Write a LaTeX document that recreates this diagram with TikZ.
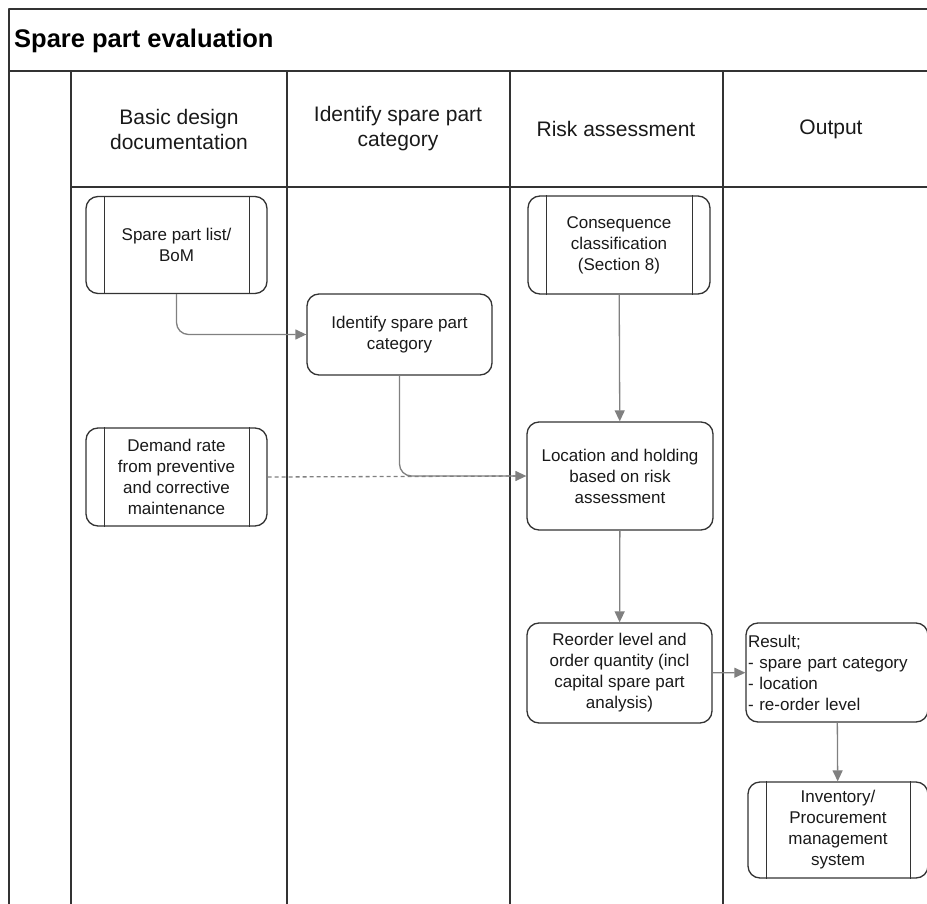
\documentclass[tikz,border=0pt]{standalone}
\usepackage{fontspec}
\setmainfont{Liberation Sans}
\usetikzlibrary{arrows.meta}
\tikzset{
  lane/.style={draw=black!80, line width=1.7pt},
  box/.style={draw=black!80, line width=1.3pt, rounded corners=12pt, align=center, inner sep=2pt,
    text=black!90, font=\fontsize{17}{21}\selectfont},
  flow/.style={draw=black!50, line width=1.3pt, rounded corners=12pt, -{Triangle[length=11pt,width=10pt]}},
}
\begin{document}
\begin{tikzpicture}[x=1pt,y=-1pt,line join=round]
\useasboundingbox (0,0) rectangle (927,904);
\clip (0,0) rectangle (927,904);
% pool, header band and lanes
\draw[lane] (960,9) -- (9,9) -- (9,910);
\draw[lane] (9,71) -- (960,71);
\draw[lane] (71,187) -- (960,187);
\foreach \x in {71,287,510,723}{\draw[lane] (\x,71) -- (\x,910);}
\node[anchor=base west, inner sep=0pt, font=\fontsize{25.5}{30}\selectfont\bfseries] (title) at (14,48) {Spare part evaluation};
\foreach \n/\x/\t in {h1/179/{Basic design\\documentation}, h2/398/{Identify spare part\\category}, h3/616/{Risk assessment}, h4/831/{Output}}{
  \node[align=center, text=black!90, font=\fontsize{21}{25}\selectfont] (\n) at (\x,129) {\t};}
% tasks
\node[box, minimum width=181pt, minimum height=97pt] (bom) at (176.5,245) {Spare part list/\\BoM};
\node[box, minimum width=185pt, minimum height=81pt] (ident) at (399.5,334.5) {Identify spare part\\category};
\node[box, minimum width=181pt, minimum height=98pt] (dem) at (176.5,477) {Demand rate\\from preventive\\and corrective\\maintenance};
\node[box, minimum width=182pt, minimum height=98pt] (cons) at (619,245) {Consequence\\classification\\(Section 8)};
\node[box, minimum width=186pt, minimum height=108pt] (loc) at (620,476) {Location and holding\\based on risk\\assessment};
\node[box, minimum width=185pt, minimum height=100pt] (reord) at (619.5,673) {Reorder level and\\order quantity (incl\\capital spare part\\analysis)};
\node[box, align=left, text width=178pt, minimum width=182pt, minimum height=99pt] (res) at (837,672.5) {Result;\\- spare part category\\- location\\- re-order level};
\node[box, minimum width=180pt, minimum height=96pt] (inv) at (838,830) {Inventory/\\Procurement\\management\\system};
% subprocess bars
\foreach \b in {bom,dem,cons,inv}{
  \draw[black!80, line width=1.3pt] ([xshift=19pt]\b.north west) -- ([xshift=19pt]\b.south west)
    ([xshift=-18pt]\b.north east) -- ([xshift=-18pt]\b.south east);}
% connectors
\draw[black!50, line width=1.3pt, dash pattern=on 4pt off 3pt] (dem.east) -- (loc.west);
\draw[flow] (bom.south) |- (ident.west);
\draw[flow] (ident.south) |- (loc.west);
\draw[flow] (cons) -- (loc);
\draw[flow] (loc) -- (reord);
\draw[flow] (reord) -- (res);
\draw[flow] (res) -- (inv);
\end{tikzpicture}
\end{document}
